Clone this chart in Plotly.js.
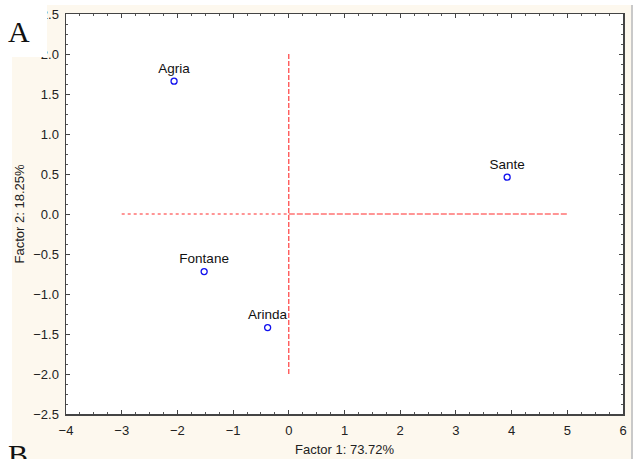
<!DOCTYPE html>
<html>
<head>
<meta charset="utf-8">
<script src="https://cdn.plot.ly/plotly-3.0.1.min.js"></script>
<style>
html,body{margin:0;padding:0;background:#ffffff;}
#bg{position:absolute;left:12px;top:5px;width:619px;height:454px;background:#fdf8ee;border-right:2px solid #c9c9c9;}
#chart{position:absolute;left:0;top:0;width:635px;height:459px;}
</style>
</head>
<body>
<div id="bg"></div>
<div id="chart"></div>
<script>
// Data
var cultivars = ["Agria", "Sante", "Fontane", "Arinda"];
var factor1 = [-2.06, 3.92, -1.52, -0.38];
var factor2 = [1.66, 0.46, -0.72, -1.42];
var refH1X = [-3, 0]; var refH1Y = [0, 0];
var refH2X = [0, 5]; var refH2Y = [0, 0];
var refVX = [0, 0]; var refVY = [-2, 2];
var xTitle = "Factor 1: 73.72%";
var yTitle = "Factor 2: 18.25%";

var red = "rgba(255,20,20,0.9)";
var traces = [
  {x: refH1X, y: refH1Y, mode: "lines", line: {color: red, width: 1.1, dash: "3px,3px"}, hoverinfo: "skip", showlegend: false},
  {x: refH2X, y: refH2Y, mode: "lines", line: {color: red, width: 1.1, dash: "6px,2px"}, hoverinfo: "skip", showlegend: false},
  {x: refVX, y: refVY, mode: "lines", line: {color: red, width: 1.1, dash: "5px,2px"}, hoverinfo: "skip", showlegend: false},
  {x: factor1, y: factor2, text: cultivars, mode: "markers+text", textposition: "top center",
   textfont: {family: "Liberation Sans, Arial, sans-serif", size: 13.5, color: "#111"},
   marker: {symbol: "circle-open", size: 6, color: "#1010ee", line: {width: 1.3, color: "#1010ee"}},
   showlegend: false}
];

var tickFont = {family: "Liberation Sans, Arial, sans-serif", size: 13, color: "#222"};
var layout = {
  width: 635, height: 459,
  margin: {l: 66, r: 12, t: 14, b: 45},
  paper_bgcolor: "rgba(0,0,0,0)",
  plot_bgcolor: "#ffffff",
  showlegend: false,
  xaxis: {
    range: [-4, 6], dtick: 1, tick0: 0, showgrid: false, zeroline: false,
    showline: true, linecolor: "#444", linewidth: 1.5, mirror: "ticks",
    ticks: "inside", ticklen: 4, tickcolor: "#444", tickwidth: 1,
    minor: {dtick: 0.25, ticks: "inside", ticklen: 2, tickcolor: "#555", showgrid: false},
    tickfont: tickFont, ticklabelstandoff: 4,
    title: {text: xTitle, font: tickFont, standoff: 8}
  },
  yaxis: {
    range: [-2.5, 2.5], dtick: 0.5, tick0: 0, tickformat: ".1f", showgrid: false, zeroline: false,
    showline: true, linecolor: "#444", linewidth: 1.5, mirror: "ticks",
    ticks: "inside", ticklen: 4, tickcolor: "#444", tickwidth: 1,
    minor: {dtick: 0.125, ticks: "inside", ticklen: 2, tickcolor: "#555", showgrid: false},
    tickfont: tickFont, ticklabelstandoff: 3,
    title: {text: yTitle, font: tickFont, standoff: 5}
  },
  shapes: [
    {type: "rect", xref: "paper", yref: "paper", layer: "above",
     x0: -66/557, x1: -19/557, y0: 1 - 43/400, y1: 1 + 14/400,
     fillcolor: "#ffffff", line: {width: 0}}
  ],
  annotations: [
    {text: "A", xref: "paper", yref: "paper", x: -59/557, y: 1 + 0/400, xanchor: "left", yanchor: "top",
     showarrow: false, borderpad: 0, font: {family: "Liberation Serif, Times New Roman, serif", size: 30, color: "#111"}},
    {text: "B", xref: "paper", yref: "paper", x: -59/557, y: -23/400, xanchor: "left", yanchor: "top",
     showarrow: false, borderpad: 0, font: {family: "Liberation Serif, Times New Roman, serif", size: 30, color: "#111"}}
  ]
};

Plotly.newPlot("chart", traces, layout, {displayModeBar: false, staticPlot: true});
</script>
</body>
</html>
